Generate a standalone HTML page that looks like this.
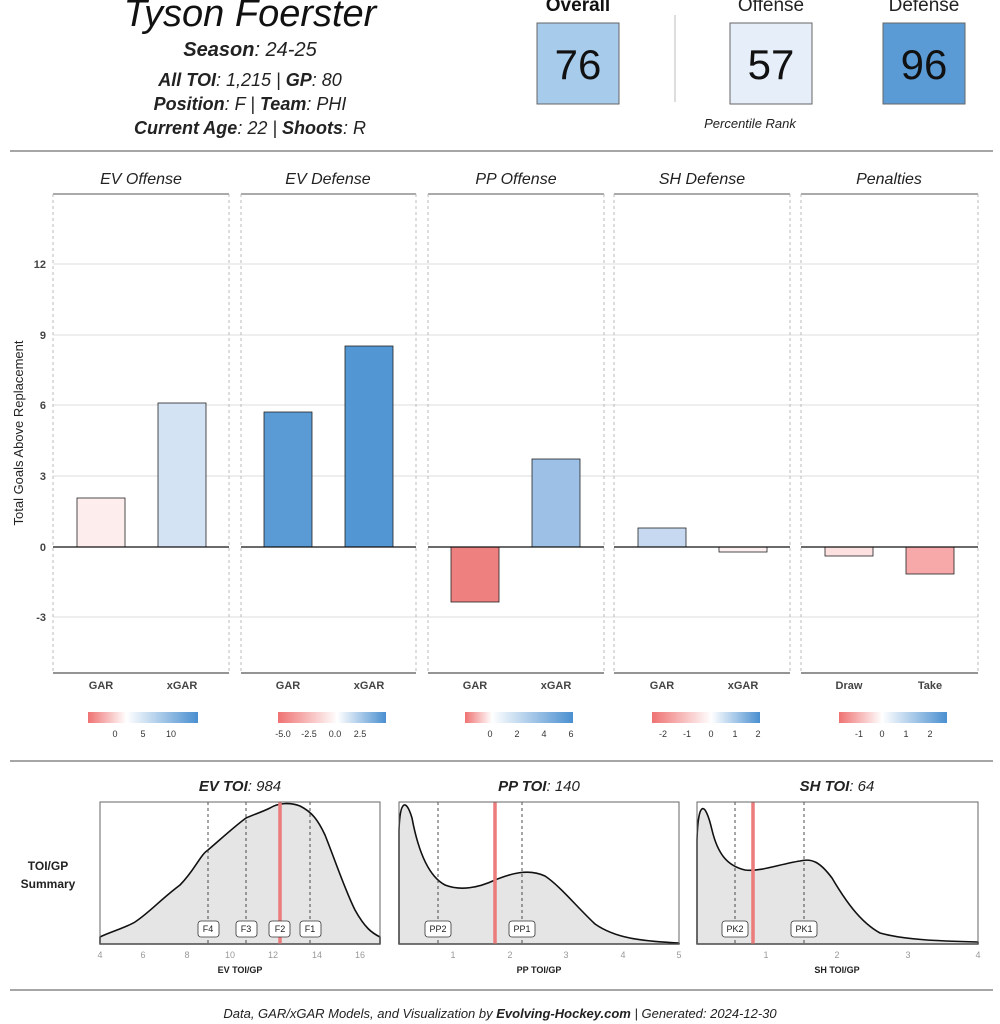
<!DOCTYPE html>
<html><head><meta charset="utf-8"><style>
body{margin:0;background:#fff}
svg{display:block;font-family:"Liberation Sans",sans-serif}
.t{font-style:italic;fill:#222}
.ax{font-size:11px;fill:#444;font-weight:bold}
.ck{font-size:9px;fill:#333}
.bt{font-size:9px;fill:#999}
</style></head><body>
<svg width="1000" height="1024" viewBox="0 0 1000 1024">
<defs>
<linearGradient id="g1" x1="0" x2="1"><stop offset="0" stop-color="#ef7272"/><stop offset="0.35" stop-color="#fff"/><stop offset="1" stop-color="#4a8fd0"/></linearGradient>
<linearGradient id="g2" x1="0" x2="1"><stop offset="0" stop-color="#ef7272"/><stop offset="0.55" stop-color="#fff"/><stop offset="1" stop-color="#4a8fd0"/></linearGradient>
<linearGradient id="g3" x1="0" x2="1"><stop offset="0" stop-color="#ef7272"/><stop offset="0.25" stop-color="#fff"/><stop offset="1" stop-color="#4a8fd0"/></linearGradient>
<linearGradient id="g4" x1="0" x2="1"><stop offset="0" stop-color="#ef7272"/><stop offset="0.55" stop-color="#fff"/><stop offset="1" stop-color="#4a8fd0"/></linearGradient>
<linearGradient id="g5" x1="0" x2="1"><stop offset="0" stop-color="#ef7272"/><stop offset="0.4" stop-color="#fff"/><stop offset="1" stop-color="#4a8fd0"/></linearGradient>
</defs>
<!-- header -->
<text x="250" y="26" text-anchor="middle" font-size="38" font-style="italic" fill="#111">Tyson Foerster</text>
<text x="250" y="56" text-anchor="middle" font-size="20" class="t"><tspan font-weight="bold">Season</tspan>: 24-25</text>
<text x="250" y="86" text-anchor="middle" font-size="18" class="t"><tspan font-weight="bold">All TOI</tspan>: 1,215 | <tspan font-weight="bold">GP</tspan>: 80</text>
<text x="250" y="110" text-anchor="middle" font-size="18" class="t"><tspan font-weight="bold">Position</tspan>: F | <tspan font-weight="bold">Team</tspan>: PHI</text>
<text x="250" y="134" text-anchor="middle" font-size="18" class="t"><tspan font-weight="bold">Current Age</tspan>: 22 | <tspan font-weight="bold">Shoots</tspan>: R</text>
<text x="578" y="11" text-anchor="middle" font-size="19" font-weight="bold" fill="#111">Overall</text>
<text x="771" y="11" text-anchor="middle" font-size="19" fill="#222">Offense</text>
<text x="924" y="11" text-anchor="middle" font-size="19" fill="#222">Defense</text>
<rect x="537" y="23" width="82" height="81" fill="#a7cbea" stroke="#666"/>
<rect x="730" y="23" width="82" height="81" fill="#e6eff9" stroke="#666"/>
<rect x="883" y="23" width="82" height="81" fill="#5b9bd5" stroke="#666"/>
<text x="578" y="79" text-anchor="middle" font-size="42" fill="#111">76</text>
<text x="771" y="79" text-anchor="middle" font-size="42" fill="#111">57</text>
<text x="924" y="79" text-anchor="middle" font-size="42" fill="#111">96</text>
<line x1="675" y1="15" x2="675" y2="102" stroke="#bbb"/>
<text x="750" y="128" text-anchor="middle" font-size="13" class="t">Percentile Rank</text>
<line x1="10" y1="151" x2="993" y2="151" stroke="#888" stroke-width="1.5"/>
<!-- panels -->
<g font-size="16" class="t" text-anchor="middle">
<text x="141" y="184">EV Offense</text><text x="328" y="184">EV Defense</text><text x="516" y="184">PP Offense</text><text x="702" y="184">SH Defense</text><text x="889" y="184">Penalties</text>
</g>
<g stroke="#777" stroke-width="1.2">
<line x1="53" y1="194" x2="229" y2="194"/><line x1="241" y1="194" x2="416" y2="194"/><line x1="428" y1="194" x2="604" y2="194"/><line x1="614" y1="194" x2="790" y2="194"/><line x1="801" y1="194" x2="978" y2="194"/>
</g>
<g stroke="#ddd">
<line x1="53" y1="264" x2="978" y2="264"/><line x1="53" y1="335" x2="978" y2="335"/><line x1="53" y1="405" x2="978" y2="405"/><line x1="53" y1="476" x2="978" y2="476"/><line x1="53" y1="617" x2="978" y2="617"/>
</g>
<g stroke="#bbb" stroke-dasharray="3,3">
<line x1="53" y1="194" x2="53" y2="673"/><line x1="229" y1="194" x2="229" y2="673"/><line x1="241" y1="194" x2="241" y2="673"/><line x1="416" y1="194" x2="416" y2="673"/><line x1="428" y1="194" x2="428" y2="673"/><line x1="604" y1="194" x2="604" y2="673"/><line x1="614" y1="194" x2="614" y2="673"/><line x1="790" y1="194" x2="790" y2="673"/><line x1="801" y1="194" x2="801" y2="673"/><line x1="978" y1="194" x2="978" y2="673"/>
</g>
<g stroke="#555" stroke-width="1.2">
<line x1="53" y1="673" x2="229" y2="673"/><line x1="241" y1="673" x2="416" y2="673"/><line x1="428" y1="673" x2="604" y2="673"/><line x1="614" y1="673" x2="790" y2="673"/><line x1="801" y1="673" x2="978" y2="673"/>
</g>
<g class="ax" text-anchor="end" font-size="11"><text x="46" y="268">12</text><text x="46" y="339">9</text><text x="46" y="409">6</text><text x="46" y="480">3</text><text x="46" y="551">0</text><text x="46" y="621">-3</text></g>
<text transform="translate(23,433) rotate(-90)" text-anchor="middle" font-size="13" fill="#222">Total Goals Above Replacement</text>
<g stroke="#222" stroke-width="0.8">
<rect x="77" y="498" width="48" height="49" fill="#fdeeed"/>
<rect x="158" y="403" width="48" height="144" fill="#d4e3f4"/>
<rect x="264" y="412" width="48" height="135" fill="#5b9bd5"/>
<rect x="345" y="346" width="48" height="201" fill="#5296d3"/>
<rect x="451" y="547" width="48" height="55" fill="#ef8080"/>
<rect x="532" y="459" width="48" height="88" fill="#9dc0e6"/>
<rect x="638" y="528" width="48" height="19" fill="#c6d9f1"/>
<rect x="719" y="547" width="48" height="5" fill="#fdf0f0"/>
<rect x="825" y="547" width="48" height="9" fill="#fde0e0"/>
<rect x="906" y="547" width="48" height="27" fill="#f7a8a8"/>
</g>
<g stroke="#111" stroke-width="1.3"><line x1="53" y1="547" x2="229" y2="547"/><line x1="241" y1="547" x2="416" y2="547"/><line x1="428" y1="547" x2="604" y2="547"/><line x1="614" y1="547" x2="790" y2="547"/><line x1="801" y1="547" x2="978" y2="547"/></g>
<g class="ax" text-anchor="middle" font-size="12" fill="#555">
<text x="101" y="689">GAR</text><text x="182" y="689">xGAR</text><text x="288" y="689">GAR</text><text x="369" y="689">xGAR</text><text x="475" y="689">GAR</text><text x="556" y="689">xGAR</text><text x="662" y="689">GAR</text><text x="743" y="689">xGAR</text><text x="849" y="689">Draw</text><text x="930" y="689">Take</text>
</g>
<rect x="88" y="712" width="110" height="11" fill="url(#g1)"/>
<rect x="278" y="712" width="108" height="11" fill="url(#g2)"/>
<rect x="465" y="712" width="108" height="11" fill="url(#g3)"/>
<rect x="652" y="712" width="108" height="11" fill="url(#g4)"/>
<rect x="839" y="712" width="108" height="11" fill="url(#g5)"/>
<g class="ck" text-anchor="middle">
<text x="115" y="737">0</text><text x="143" y="737">5</text><text x="171" y="737">10</text>
<text x="283" y="737">-5.0</text><text x="309" y="737">-2.5</text><text x="335" y="737">0.0</text><text x="360" y="737">2.5</text>
<text x="490" y="737">0</text><text x="517" y="737">2</text><text x="544" y="737">4</text><text x="571" y="737">6</text>
<text x="663" y="737">-2</text><text x="687" y="737">-1</text><text x="711" y="737">0</text><text x="735" y="737">1</text><text x="758" y="737">2</text>
<text x="859" y="737">-1</text><text x="882" y="737">0</text><text x="906" y="737">1</text><text x="930" y="737">2</text>
</g>
<line x1="10" y1="761" x2="993" y2="761" stroke="#888" stroke-width="1.5"/>
<!-- bottom -->
<text x="48" y="870" text-anchor="middle" font-size="12" font-weight="bold" fill="#222">TOI/GP</text>
<text x="48" y="888" text-anchor="middle" font-size="12" font-weight="bold" fill="#222">Summary</text>
<g font-size="15" class="t" text-anchor="middle">
<text x="240" y="791"><tspan font-weight="bold">EV TOI</tspan>: 984</text>
<text x="539" y="791"><tspan font-weight="bold">PP TOI</tspan>: 140</text>
<text x="837" y="791"><tspan font-weight="bold">SH TOI</tspan>: 64</text>
</g>
<g fill="#e5e5e5" stroke="#111" stroke-width="1.6" stroke-linejoin="round">
<path d="M100,937 C110,932 125,928 135,922 C150,912 160,900 180,885 C195,870 200,855 208,850 C222,838 235,826 246,818 C255,814 262,812 270,808 C278,803 290,802 300,806 C312,812 318,820 325,835 C335,860 345,890 355,910 C365,928 372,933 380,937 L380,944 L100,944 Z"/>
<path d="M399,830 C400,800 406,798 412,818 C418,850 428,876 445,885 C460,891 478,888 495,880 C510,874 528,868 545,876 C560,886 575,905 595,924 C615,938 640,941 679,943 L679,944 L399,944 Z"/>
<path d="M697,840 C698,800 705,800 712,830 C718,855 728,866 745,870 C760,872 780,864 800,861 C812,858 820,862 832,878 C845,900 860,922 880,933 C905,940 940,941 978,942 L978,944 L697,944 Z"/>
</g>
<g stroke="#222" stroke-dasharray="3,3" stroke-width="0.8">
<line x1="208" y1="802" x2="208" y2="944"/><line x1="246" y1="802" x2="246" y2="944"/><line x1="310" y1="802" x2="310" y2="944"/>
<line x1="438" y1="802" x2="438" y2="944"/><line x1="522" y1="802" x2="522" y2="944"/>
<line x1="735" y1="802" x2="735" y2="944"/><line x1="804" y1="802" x2="804" y2="944"/>
</g>
<g stroke="#ec7b7b" stroke-width="3.5"><line x1="280" y1="802" x2="280" y2="944"/><line x1="495" y1="802" x2="495" y2="944"/><line x1="753" y1="802" x2="753" y2="944"/></g>
<g fill="none" stroke="#666"><rect x="100" y="802" width="280" height="142"/><rect x="399" y="802" width="280" height="142"/><rect x="697" y="802" width="281" height="142"/></g>
<g fill="#fff" stroke="#333" stroke-width="0.8">
<rect x="198" y="921" width="21" height="16" rx="3"/><rect x="236" y="921" width="21" height="16" rx="3"/><rect x="269" y="921" width="21" height="16" rx="3"/><rect x="300" y="921" width="21" height="16" rx="3"/>
<rect x="425" y="921" width="26" height="16" rx="3"/><rect x="509" y="921" width="26" height="16" rx="3"/>
<rect x="722" y="921" width="26" height="16" rx="3"/><rect x="791" y="921" width="26" height="16" rx="3"/>
</g>
<g font-size="9" fill="#222" text-anchor="middle">
<text x="208" y="932">F4</text><text x="246" y="932">F3</text><text x="280" y="932">F2</text><text x="310" y="932">F1</text>
<text x="438" y="932">PP2</text><text x="522" y="932">PP1</text><text x="735" y="932">PK2</text><text x="804" y="932">PK1</text>
</g>
<g class="bt" text-anchor="middle">
<text x="100" y="958">4</text><text x="143" y="958">6</text><text x="187" y="958">8</text><text x="230" y="958">10</text><text x="273" y="958">12</text><text x="317" y="958">14</text><text x="360" y="958">16</text>
<text x="453" y="958">1</text><text x="510" y="958">2</text><text x="566" y="958">3</text><text x="623" y="958">4</text><text x="679" y="958">5</text>
<text x="766" y="958">1</text><text x="837" y="958">2</text><text x="908" y="958">3</text><text x="978" y="958">4</text>
</g>
<g font-size="9" font-weight="bold" fill="#222" text-anchor="middle">
<text x="240" y="973">EV TOI/GP</text><text x="539" y="973">PP TOI/GP</text><text x="837" y="973">SH TOI/GP</text>
</g>
<line x1="10" y1="990" x2="993" y2="990" stroke="#888" stroke-width="1.5"/>
<text x="500" y="1018" text-anchor="middle" font-size="13" class="t">Data, GAR/xGAR Models, and Visualization by <tspan font-weight="bold">Evolving-Hockey.com</tspan> | Generated: 2024-12-30</text>
</svg>
</body></html>
